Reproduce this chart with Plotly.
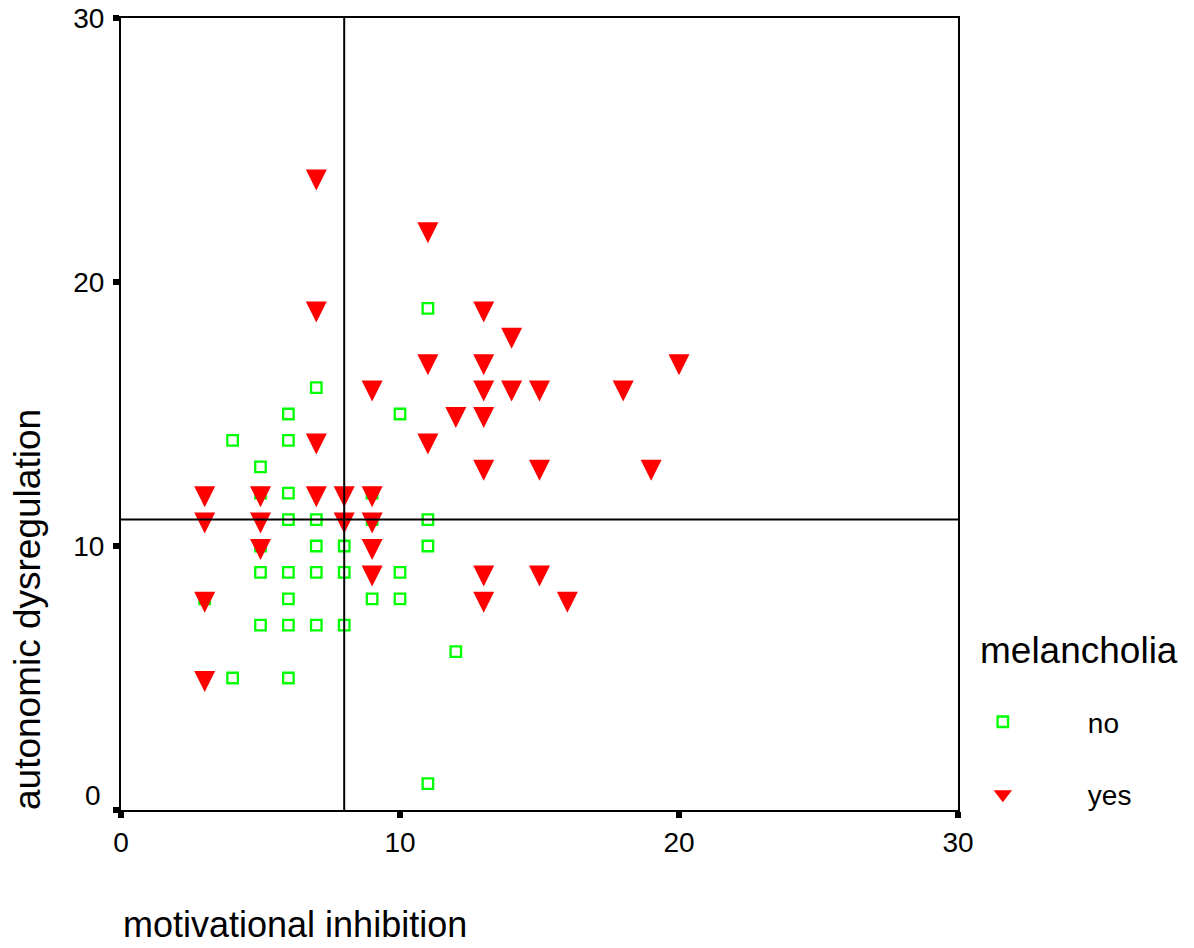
import plotly.graph_objects as go

# motivational inhibition (x) and autonomic dysregulation (y) by melancholia group
no_x = [4, 5, 5, 6, 6, 6, 6, 7, 7, 9, 9, 10, 11, 11,
        5, 7, 8, 11,
        5, 6, 7, 8, 10,
        3, 6, 9, 10,
        5, 6, 7, 8,
        4, 6, 12, 11]
no_y = [14, 13, 12, 15, 14, 12, 11, 16, 11, 12, 11, 15, 19, 11,
        10, 10, 10, 10,
        9, 9, 9, 9, 9,
        8, 8, 8, 8,
        7, 7, 7, 7,
        5, 5, 6, 1]

yes_x = [7, 11, 7, 13, 14, 11, 13, 20, 9, 13, 14, 15, 18, 12, 13, 7, 11, 13, 15, 19,
         3, 5, 7, 8, 9,
         3, 5, 8, 9,
         5, 9,
         9, 13, 15,
         3, 13, 16,
         3]
yes_y = [24, 22, 19, 19, 18, 17, 17, 17, 16, 16, 16, 16, 16, 15, 15, 14, 14, 13, 13, 13,
         12, 12, 12, 12, 12,
         11, 11, 11, 11,
         10, 10,
         9, 9, 9,
         8, 8, 8,
         5]

# cut-off reference lines
x_cut = 8
y_cut = 11

axis_ticks = [0, 10, 20, 30]
FONT = "Liberation Sans, Arial, sans-serif"
GREEN = "#00ff00"
RED = "#ff0000"

fig = go.Figure()
fig.add_trace(go.Scatter(
    x=no_x, y=no_y, mode="markers", name="no", showlegend=False,
    marker=dict(symbol="square-open", size=10.5, color=GREEN,
                line=dict(color=GREEN, width=2.3)),
))
fig.add_trace(go.Scatter(
    x=yes_x, y=yes_y, mode="markers", name="yes", showlegend=False,
    marker=dict(symbol="arrow-down", size=21, standoff=14, color=RED,
                line=dict(width=0)),
))

# legend keys
fig.add_trace(go.Scatter(
    x=[None], y=[None], mode="markers", name="no", legendgroup="no",
    marker=dict(symbol="square-open", size=10.5, color=GREEN,
                line=dict(color=GREEN, width=2.3)),
))
fig.add_trace(go.Scatter(
    x=[None], y=[None], mode="markers", name="yes", legendgroup="yes",
    marker=dict(symbol="triangle-down", size=16, color=RED, line=dict(width=0)),
))

fig.add_shape(type="line", xref="x", yref="paper", x0=x_cut, x1=x_cut, y0=0, y1=1,
              line=dict(color="black", width=2))
fig.add_shape(type="line", xref="paper", yref="y", x0=0, x1=1, y0=y_cut, y1=y_cut,
              line=dict(color="black", width=2))

axis_common = dict(
    range=[0, 30], tickvals=axis_ticks, showgrid=False, zeroline=False,
    showline=True, linecolor="black", linewidth=2, mirror=True,
    ticks="outside", ticklen=6, tickwidth=6, tickcolor="black",
    tickfont=dict(family=FONT, size=28, color="black"), automargin=False,
)
fig.update_xaxes(**axis_common, ticktext=[str(v) for v in axis_ticks])
fig.update_yaxes(**axis_common, ticktext=[""] + [str(v) for v in axis_ticks[1:]],
                 ticklabelstandoff=3)

# y-axis zero label sits a little above its tick
fig.add_annotation(text="0", xref="paper", yref="y", x=-0.0215, y=0, yshift=15,
                   xanchor="right", yanchor="middle", showarrow=False,
                   font=dict(family=FONT, size=28, color="black"))
fig.add_annotation(text="motivational inhibition", xref="paper", yref="paper",
                   x=0, y=-0.1452, xanchor="left", yanchor="middle", showarrow=False,
                   font=dict(family=FONT, size=36, color="black"))
fig.add_annotation(text="autonomic dysregulation", xref="paper", yref="paper",
                   x=-0.1123, y=0.2525, xanchor="center", yanchor="middle",
                   textangle=-90, showarrow=False,
                   font=dict(family=FONT, size=37, color="black"))
fig.add_annotation(text="melancholia", xref="paper", yref="paper",
                   x=1.0239, y=0.2020, xanchor="left", yanchor="middle", showarrow=False,
                   font=dict(family=FONT, size=37, color="black"))

fig.update_layout(
    width=1194, height=948,
    margin=dict(l=121, r=236, t=18, b=138),
    paper_bgcolor="white", plot_bgcolor="white",
    showlegend=True,
    legend=dict(x=0.952, y=0.1426, xanchor="left", yanchor="top",
                bgcolor="rgba(0,0,0,0)", itemwidth=160, tracegroupgap=33,
                font=dict(family=FONT, size=28, color="black")),
)

fig.write_html("out.html")
